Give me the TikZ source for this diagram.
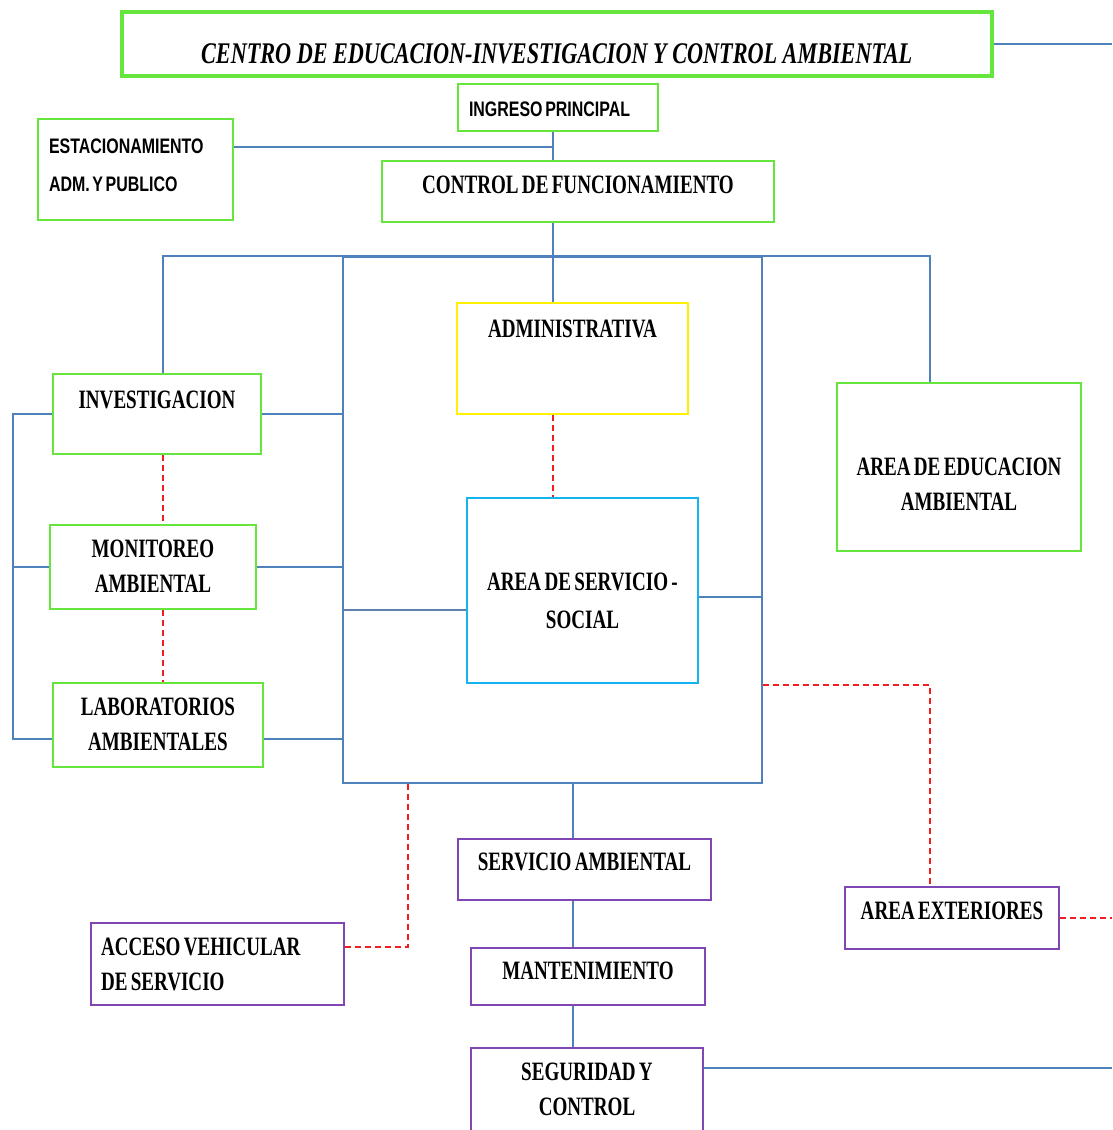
\documentclass[tikz,border=0pt]{standalone}
\usepackage{fontspec}
\usetikzlibrary{positioning}
\newfontfamily\rotulo[FakeStretch=0.72,WordSpace=0.7]{Liberation Serif}
\newfontfamily\rotulosans[FakeStretch=0.76,WordSpace=0.6]{Liberation Sans}
\newfontfamily\rotulotitulo[FakeStretch=0.74]{Liberation Serif}
\definecolor{verdecaja}{RGB}{102,230,60}
\definecolor{amarillocaja}{RGB}{255,240,0}
\definecolor{celestecaja}{RGB}{20,180,240}
\definecolor{moradocaja}{RGB}{128,70,180}
\definecolor{azullinea}{RGB}{79,129,189}
\definecolor{rojolinea}{RGB}{240,30,30}
\newcommand{\renglones}[2][c]{\begin{tabular}[t]{@{}#1@{}}#2\end{tabular}}

\begin{document}
\begin{tikzpicture}[x=1pt,y=-1pt,
  caja/.style={draw,line width=2pt,inner sep=0pt,anchor=north west,
    align=center,font=\rotulo\bfseries\fontsize{26.5}{35}\selectfont},
  cajasans/.style={caja,font=\rotulosans\bfseries\fontsize{21}{38}\selectfont},
  marco/.style={draw=azullinea,line width=1.8pt,inner sep=0pt,anchor=north west},
  enlace/.style={draw=azullinea,line width=1.8pt},
  punteada/.style={draw=rojolinea,line width=1.5pt,dash pattern=on 6pt off 4pt}
]
  \useasboundingbox (0,0) rectangle (1112,1130);
  \fill[white] (0,0) rectangle (1112,1130);

  % marco central
  \node[marco,minimum width=419pt,minimum height=526pt] (nucleo) at (342,256) {};

  \node[caja,draw=verdecaja,line width=3.5pt,
    font=\rotulotitulo\bfseries\itshape\fontsize{30}{36}\selectfont,
    minimum width=870pt,text height=52pt,text depth=12pt] (titulo) at (120,10)
    {CENTRO DE EDUCACION-INVESTIGACION Y CONTROL AMBIENTAL};
  \node[cajasans,draw=verdecaja,text width=178pt,align=flush left,inner xsep=11pt,
    text height=32.5pt,text depth=14.5pt] (ingreso) at (457,83) {INGRESO PRINCIPAL};
  \node[cajasans,draw=verdecaja,text width=173pt,align=flush left,inner xsep=11pt,
    text height=34.5pt,text depth=66.5pt] (estac) at (37,118)
    {\renglones[l]{ESTACIONAMIENTO\\ADM. Y PUBLICO}};
  \node[caja,draw=verdecaja,minimum width=392pt,text height=32pt,text depth=29pt]
    (control) at (381,160) {CONTROL DE FUNCIONAMIENTO};
  \node[caja,draw=amarillocaja,minimum width=231pt,text height=34pt,text depth=77pt]
    (admin) at (456,302) {ADMINISTRATIVA};
  \node[caja,draw=verdecaja,minimum width=208pt,text height=34pt,text depth=46pt]
    (invest) at (52,373) {INVESTIGACION};
  \node[caja,draw=verdecaja,minimum width=206pt,text height=32pt,text depth=52pt]
    (monit) at (49,524) {\renglones{MONITOREO\\AMBIENTAL}};
  \node[caja,draw=verdecaja,minimum width=210pt,text height=32pt,text depth=52pt]
    (labs) at (52,682) {\renglones{LABORATORIOS\\AMBIENTALES}};
  \node[caja,draw=celestecaja,minimum width=231pt,text height=92pt,text depth=93pt]
    (social) at (466,497) {\renglones{AREA DE SERVICIO -\\[3pt]SOCIAL}};
  \node[caja,draw=verdecaja,minimum width=244pt,text height=92pt,text depth=76pt]
    (educ) at (836,382) {\renglones{AREA DE EDUCACION\\AMBIENTAL}};
  \node[caja,draw=moradocaja,minimum width=253pt,text height=31pt,text depth=30pt]
    (servamb) at (457,838) {SERVICIO AMBIENTAL};
  \node[caja,draw=moradocaja,minimum width=234pt,text height=31pt,text depth=26pt]
    (mant) at (470,947) {MANTENIMIENTO};
  \node[caja,draw=moradocaja,minimum width=232pt,text height=32pt,text depth=71pt]
    (segur) at (470,1047) {\renglones{SEGURIDAD Y\\CONTROL}};
  \node[caja,draw=moradocaja,minimum width=214pt,text height=32pt,text depth=30pt]
    (exter) at (844,886) {AREA EXTERIORES};
  \node[caja,draw=moradocaja,text width=233pt,align=flush left,inner xsep=10pt,
    text height=32pt,text depth=50pt] (acceso) at (90,922)
    {\renglones[l]{ACCESO VEHICULAR\\DE SERVICIO}};

  % ejes de los conectores
  \coordinate (borde) at (1112,0);
  \coordinate (eje) at (553,0);
  \coordinate (ejeI) at (163,0);
  \coordinate (ejeD) at (930,0);
  \coordinate (ejeL) at (13,0);
  \coordinate (ejeS) at (573,0);
  \coordinate (ejeA) at (408,0);

  \draw[enlace] (titulo.east) -- (titulo.east -| borde);
  \draw[enlace] (ingreso.south -| eje) -- (control.north -| eje);
  \draw[enlace] ([yshift=22.5pt]estac.east) coordinate (e1) -- (e1 -| eje);
  \draw[enlace] (control.south -| eje) -- (admin.north -| eje);
  \draw[enlace] (invest.north -| ejeI) |- (nucleo.north) -| (educ.north -| ejeD);
  \draw[enlace] (invest.east) -- (invest.east -| nucleo.west);
  \draw[enlace] (monit.east) -- (monit.east -| nucleo.west);
  \draw[enlace] ([yshift=-14pt]labs.east) coordinate (l1) -- (l1 -| nucleo.west);
  \draw[enlace] (invest.west) -- (invest.west -| ejeL) |- ([yshift=-14pt]labs.west);
  \draw[enlace] (monit.west) -- (monit.west -| ejeL);
  \draw[punteada] (invest.south -| ejeI) -- (monit.north -| ejeI);
  \draw[punteada] (monit.south -| ejeI) -- (labs.north -| ejeI);
  \draw[punteada] (admin.south -| eje) -- (social.north -| eje);
  \draw[enlace,draw=azullinea!70!gray] ([yshift=-19.5pt]social.west) coordinate (s1)
    -- (s1 -| nucleo.west);
  \draw[enlace] ([yshift=-6.5pt]social.east) coordinate (s2) -- (s2 -| nucleo.east);
  \draw[punteada] ([yshift=-165pt]nucleo.east) -| (exter.north -| ejeD);
  \draw[punteada] (exter.east) -- (exter.east -| borde);
  \draw[enlace] (nucleo.south -| ejeS) -- (servamb.north -| ejeS);
  \draw[enlace] (servamb.south -| ejeS) -- (mant.north -| ejeS);
  \draw[enlace] (mant.south -| ejeS) -- (segur.north -| ejeS);
  \draw[enlace] ([yshift=-21pt]segur.north east) coordinate (g1) -- (g1 -| borde);
  \draw[punteada] ([yshift=17pt]acceso.east) -| (nucleo.south -| ejeA);
\end{tikzpicture}
\end{document}
